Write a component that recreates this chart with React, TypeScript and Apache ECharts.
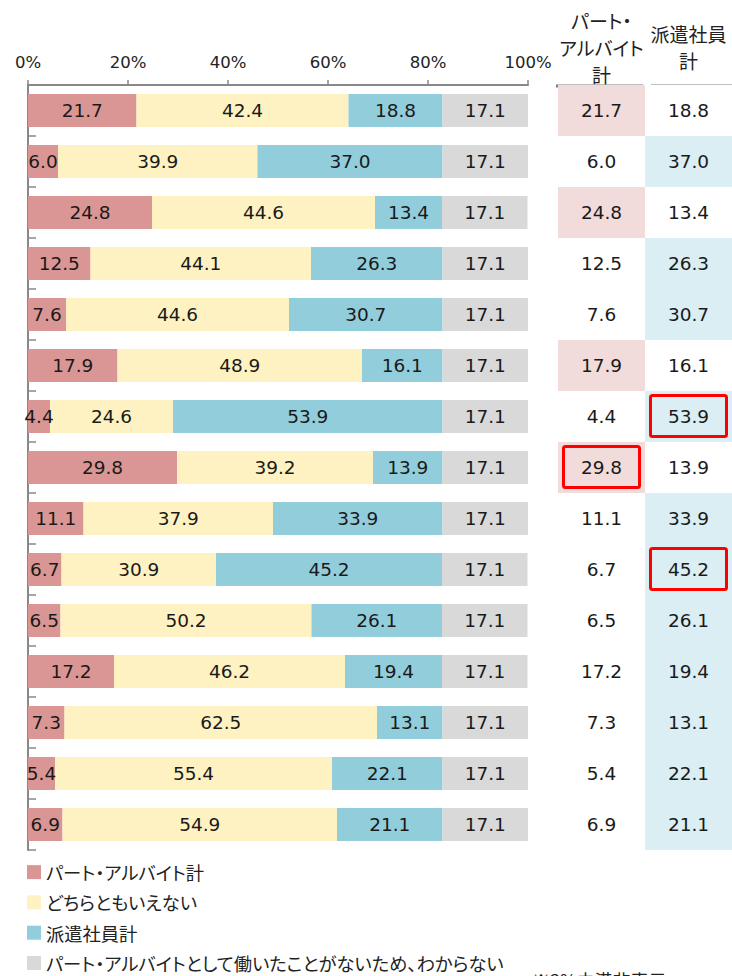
import React, { useEffect, useRef } from "react";
import * as echarts from "echarts";

const categories = ["1", "2", "3", "4", "5", "6", "7", "8", "9", "10", "11", "12", "13", "14", "15"];
const seriesNames = [
  "パート・アルバイト計",
  "どちらともいえない",
  "派遣社員計",
  "パート・アルバイトとして働いたことがないため、わからない",
];
const partTotal = [21.7, 6.0, 24.8, 12.5, 7.6, 17.9, 4.4, 29.8, 11.1, 6.7, 6.5, 17.2, 7.3, 5.4, 6.9];
const neither = [42.4, 39.9, 44.6, 44.1, 44.6, 48.9, 24.6, 39.2, 37.9, 30.9, 50.2, 46.2, 62.5, 55.4, 54.9];
const dispatchTotal = [18.8, 37.0, 13.4, 26.3, 30.7, 16.1, 53.9, 13.9, 33.9, 45.2, 26.1, 19.4, 13.1, 22.1, 21.1];
const unknown = [17.1, 17.1, 17.1, 17.1, 17.1, 17.1, 17.1, 17.1, 17.1, 17.1, 17.1, 17.1, 17.1, 17.1, 17.1];
const xTicks = [0, 20, 40, 60, 80, 100];
const tableColumns = ["パート・\nアルバイト\n計", "派遣社員\n計"];
// [column, row] of the cells marked with a red frame
const boxedCells = [
  [0, 7],
  [1, 6],
  [1, 9],
];
const footnote = "※3%未満非表示";

const barColors = ["#da9694", "#fff2c2", "#92cddc", "#d9d9d9"];
const cellColors = ["#f2dcdb", "#daeef3"];
const NUM_FONT = "DejaVu Sans";
const JP_FONT = "Noto Sans CJK JP";

export default function App() {
  const ref = useRef<HTMLDivElement>(null);
  useEffect(() => {
    document.body.style.margin = "0";
    const st = document.createElement("style");
    st.textContent = 'text, tspan { font-feature-settings: "palt" 1; }';
    document.head.appendChild(st);
    const chart = echarts.init(ref.current!, null, { renderer: "svg" });
    const barData = [partTotal, neither, dispatchTotal, unknown];

    const tableData: any[] = [];
    categories.forEach((_, r) => {
      const p = partTotal[r];
      const d = dispatchTotal[r];
      const boxP = boxedCells.some((b) => b[0] === 0 && b[1] === r) ? 1 : 0;
      const boxD = boxedCells.some((b) => b[0] === 1 && b[1] === r) ? 1 : 0;
      tableData.push([0, r, p, p > d ? 1 : 0, boxP]);
      tableData.push([1, r, d, d > p ? 1 : 0, boxD]);
    });

    chart.setOption({
      animation: false,
      grid: [
        { left: 28, right: 204, top: 85, bottom: 126, containLabel: false },
        { left: 558, right: -4, top: 85, bottom: 126, containLabel: false },
      ],
      legend: {
        orient: "vertical",
        left: 27,
        top: 863,
        height: 200,
        padding: 0,
        itemWidth: 14,
        itemHeight: 14,
        itemGap: 12,
        icon: "rect",
        data: seriesNames,
        selectedMode: false,
        textStyle: { fontFamily: JP_FONT, fontSize: 18.3, color: "#222" },
      },
      xAxis: [
        {
          type: "value",
          gridIndex: 0,
          position: "top",
          min: xTicks[0],
          max: xTicks[xTicks.length - 1],
          interval: 20,
          axisLine: { show: true, lineStyle: { color: "#888", width: 2 } },
          axisTick: { show: true, length: 5, lineStyle: { color: "#888", width: 1.5 } },
          splitLine: { show: false },
          axisLabel: {
            formatter: "{value}%",
            fontFamily: NUM_FONT,
            fontSize: 16.5,
            color: "#222",
            margin: 14,
          },
        },
        {
          type: "category",
          gridIndex: 1,
          position: "top",
          data: tableColumns,
          axisLine: { show: false },
          axisTick: { show: false },
          axisLabel: {
            interval: 0,
            margin: 38,
            verticalAlign: "middle",
            fontFamily: JP_FONT,
            fontSize: 19,
            lineHeight: 27,
            color: "#222",
          },
        },
      ],
      yAxis: [
        {
          type: "category",
          gridIndex: 0,
          inverse: true,
          data: categories,
          axisLine: { show: true, lineStyle: { color: "#888", width: 2 } },
          axisTick: { show: true, inside: true, length: 8, lineStyle: { color: "#888", width: 1.5 } },
          axisLabel: { show: false },
        },
        {
          type: "category",
          gridIndex: 1,
          inverse: true,
          data: categories,
          axisLine: { show: false },
          axisTick: { show: false },
          axisLabel: { show: false },
        },
      ],
      series: [
        ...seriesNames.map((name, i) => ({
          name,
          type: "bar",
          stack: "total",
          xAxisIndex: 0,
          yAxisIndex: 0,
          barWidth: 33,
          itemStyle: { color: barColors[i] },
          label: {
            show: true,
            position: "inside",
            formatter: (p: any) => Number(p.value).toFixed(1),
            fontFamily: NUM_FONT,
            fontSize: 18.5,
            color: "#1a1a1a",
          },
          data: barData[i],
        })),
        {
          type: "custom",
          xAxisIndex: 1,
          yAxisIndex: 1,
          encode: { x: 0, y: 1 },
          data: tableData,
          renderItem: (params: any, api: any) => {
            const c = api.coord([api.value(0), api.value(1)]);
            const s = api.size([1, 1]);
            const col = api.value(0);
            const hl = api.value(3);
            const boxed = api.value(4);
            const children: any[] = [
              {
                type: "rect",
                shape: { x: c[0] - s[0] / 2, y: c[1] - s[1] / 2, width: s[0], height: s[1] },
                style: { fill: hl ? cellColors[col] : "#ffffff" },
              },
              {
                type: "text",
                style: {
                  text: Number(api.value(2)).toFixed(1),
                  x: c[0],
                  y: c[1],
                  align: "center",
                  verticalAlign: "middle",
                  fontFamily: NUM_FONT,
                  fontSize: 18.5,
                  fill: "#1a1a1a",
                },
              },
            ];
            if (boxed) {
              children.push({
                type: "rect",
                shape: { x: c[0] - 38, y: c[1] - 21, width: 76, height: 41, r: 2 },
                style: { fill: "none", stroke: "#ff0000", lineWidth: 3 },
              });
            }
            return { type: "group", children };
          },
        },
      ],
      graphic: [
        {
          type: "line",
          shape: { x1: 556, y1: 86, x2: 643, y2: 86 },
          style: { stroke: "#808080", lineWidth: 3 },
        },
        {
          type: "line",
          shape: { x1: 651, y1: 86, x2: 732, y2: 86 },
          style: { stroke: "#808080", lineWidth: 3 },
        },
        {
          type: "text",
          left: 532,
          top: 971,
          style: { text: footnote, fontFamily: JP_FONT, fontSize: 18, fill: "#222" },
        },
      ],
    });
    return () => {
      chart.dispose();
      st.remove();
    };
  }, []);
  return <div ref={ref} style={{ width: 732, height: 976 }} />;
}
